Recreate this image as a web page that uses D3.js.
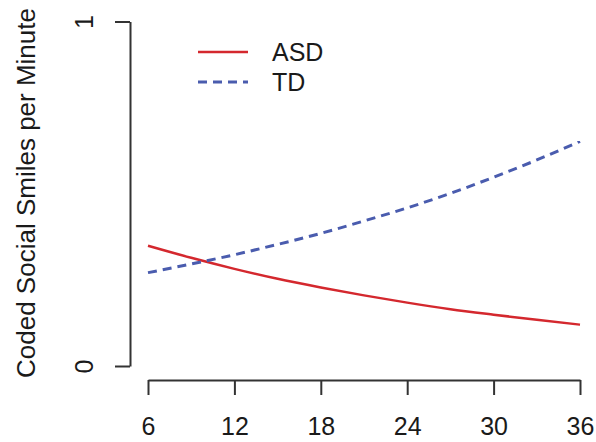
<!DOCTYPE html>
<html lang="en">
<head>
  <meta charset="UTF-8">
  <title>Coded Social Smiles</title>
  <script src="https://d3js.org/d3.v7.min.js"></script>
  <style>
    body { margin: 0; background: #fff; }
    text { font-family: "Liberation Sans", Arial, sans-serif; fill: #1a1a1a; }
  </style>
</head>
<body>
  <svg width="596" height="442"></svg>
<script>
// months of age
var months = [6, 9, 12, 15, 18, 21, 24, 27, 30, 33, 36];
// values
var asd = [0.349, 0.314, 0.282, 0.253, 0.228, 0.205, 0.184, 0.165, 0.149, 0.134, 0.120];
var td  = [0.271, 0.296, 0.323, 0.353, 0.385, 0.421, 0.459, 0.501, 0.548, 0.598, 0.652];
var xTicks = [6, 12, 18, 24, 30, 36];
var yTicks = [0, 1];
var seriesNames = ["ASD", "TD"];

var svg = d3.select("svg");

var x = d3.scaleLinear().domain([6, 36]).range([148, 580]);
var y = d3.scaleLinear().domain([0, 1]).range([366, 21.5]);

var axisColor = "#333";

// x axis (R style, detached below the plot)
var gx = svg.append("g").attr("transform", "translate(0,380)")
  .call(d3.axisBottom(x).tickValues(xTicks).tickSize(15).tickSizeOuter(0).tickPadding(22));
gx.select(".domain").attr("stroke", axisColor).attr("stroke-width", 2);
gx.selectAll(".tick line").attr("stroke", axisColor).attr("stroke-width", 2);
gx.selectAll(".tick text").attr("font-size", 25).attr("fill", "#1a1a1a")
  .style("font-family", "Liberation Sans, Arial, sans-serif");

// y axis
var gy = svg.append("g").attr("transform", "translate(130,0)")
  .call(d3.axisLeft(y).tickValues(yTicks).tickSize(15).tickSizeOuter(0).tickFormat(d3.format("d")));
gy.select(".domain").attr("stroke", axisColor).attr("stroke-width", 2);
gy.selectAll(".tick line").attr("stroke", axisColor).attr("stroke-width", 2);
gy.selectAll(".tick text").attr("font-size", 25).attr("fill", "#1a1a1a")
  .style("font-family", "Liberation Sans, Arial, sans-serif")
  .attr("x", null)
  .attr("text-anchor", "middle")
  .attr("transform", "translate(-46,0) rotate(-90)")
  .attr("dy", "0.36em");

// y title
svg.append("text")
  .attr("transform", "translate(35,193) rotate(-90)")
  .attr("text-anchor", "middle")
  .attr("font-size", 26)
  .text("Coded Social Smiles per Minute");

var line = d3.line()
  .x(function(d, i) { return x(months[i]); })
  .y(function(d) { return y(d); })
  .curve(d3.curveMonotoneX);

var colors = ["#d4282e", "#4a5cae"];
var dashes = [null, "9,6"];

svg.append("path").datum(asd)
  .attr("fill", "none").attr("stroke", colors[0]).attr("stroke-width", 2.5)
  .attr("d", line);
svg.append("path").datum(td)
  .attr("fill", "none").attr("stroke", colors[1]).attr("stroke-width", 3)
  .attr("stroke-dasharray", dashes[1])
  .attr("d", line);

// legend
var leg = svg.append("g");
seriesNames.forEach(function(name, i) {
  var ly = 52 + i * 30;
  leg.append("line")
    .attr("x1", 198).attr("x2", 248).attr("y1", ly).attr("y2", ly)
    .attr("stroke", colors[i]).attr("stroke-width", i ? 3 : 2.5)
    .attr("stroke-dasharray", dashes[i]);
  leg.append("text")
    .attr("x", 272).attr("y", ly).attr("dy", "0.36em")
    .attr("font-size", 25)
    .text(name);
});
</script>
</body>
</html>
